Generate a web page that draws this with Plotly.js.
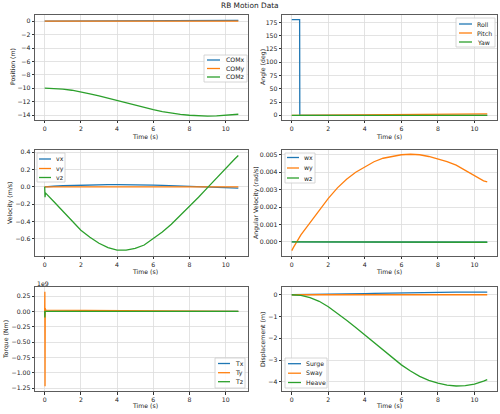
<!DOCTYPE html>
<html><head><meta charset="utf-8">
<script src="https://cdn.plot.ly/plotly-3.0.1.min.js"></script>
<style>html,body{margin:0;padding:0;background:#fff}#c{width:500px;height:414px}</style>
</head><body><div id="c"></div>
<script>
// ---- data ----
const tPos = [0,0.5,1,1.5,2,2.5,3,3.5,4,4.5,5,5.5,6,6.5,7,7.5,8,8.5,9,9.5,10,10.5,10.7];
const comX = [0,0.003,0.008,0.014,0.02,0.028,0.036,0.045,0.055,0.064,0.073,0.082,0.09,0.097,0.103,0.108,0.112,0.115,0.117,0.118,0.119,0.12,0.12];
const comY = [0,0,0,0,0,0,0,0,0,0,0,0,0,0,0,0,0,0,0,0,0,0,0];
const comZ = [-10,-10.03,-10.13,-10.3,-10.53,-10.83,-11.15,-11.5,-11.84,-12.2,-12.55,-12.88,-13.2,-13.48,-13.72,-13.9,-14.03,-14.12,-14.15,-14.13,-14.06,-13.95,-13.88];

const tRoll = [0,0.43,0.44,10.7];
const roll = [180,180,0,0];
const tAng = [0,2,4,6,8,10.7];
const pitch = [0,0.3,0.8,1.4,2.0,2.6];
const yaw = [0,0,0,0,0,0];

const tVel = [0,0.02,0.04,0.5,1,1.5,2,2.5,3,3.5,4,4.5,5,5.5,6,6.5,7,7.5,8,8.5,9,9.5,10,10.5,10.7];
const vx = [0,0,0,0.006,0.012,0.016,0.02,0.022,0.024,0.025,0.025,0.025,0.024,0.022,0.02,0.016,0.012,0.008,0.003,-0.002,-0.006,-0.009,-0.012,-0.014,-0.015];
const vy = [0,0,0,0,0,0,0,0,0,0,0,0,0,0,0,0,0,0,0,0,0,0,0,0,0];
const vz = [0,-0.12,-0.07,-0.17,-0.28,-0.39,-0.5,-0.58,-0.65,-0.7,-0.73,-0.73,-0.71,-0.67,-0.6,-0.52,-0.43,-0.33,-0.23,-0.12,-0.01,0.1,0.22,0.32,0.36];

const tW = [0,0.1,0.5,1,1.5,2,2.5,3,3.5,4,4.5,5,5.5,6,6.5,7,7.5,8,8.5,9,9.5,10,10.5,10.7];
const wx = [0,0,0,0,0,0,-0.000002,-0.000004,-0.000005,-0.000006,-0.000007,-0.000008,-0.000009,-0.00001,-0.000011,-0.000012,-0.000013,-0.000014,-0.000015,-0.000016,-0.000017,-0.000018,-0.000019,-0.00002];
const wy = [-0.0005,-0.0003,0.0004,0.0011,0.0018,0.0025,0.0031,0.0036,0.004,0.0043,0.0046,0.0048,0.0049,0.005,0.00503,0.005,0.0049,0.00477,0.0046,0.0044,0.0041,0.0038,0.0035,0.00344];
const wz = [0,0,0,0,0,0,-0.000002,-0.000003,-0.000004,-0.000005,-0.000006,-0.000007,-0.000008,-0.000009,-0.00001,-0.000011,-0.000012,-0.000013,-0.000014,-0.000015,-0.000016,-0.000017,-0.000018,-0.000019];

// torque in units of 1e9 N*m
const tTq = [0,0.01,0.02,0.03,0.05,0.1,2,4,6,8,10.7];
const tx = [0,0,0,0,0,0,0,0,0,0,0];
const ty = [0,0.32,-1.22,0.05,0.025,0.022,0.016,0.011,0.007,0.003,0.0];
const tz = [0,-0.1,0.01,0,0,0,0,0,0,0,0];

const tDisp = tPos;
const surge = [0,0.003,0.008,0.014,0.02,0.028,0.036,0.045,0.055,0.064,0.073,0.082,0.09,0.097,0.103,0.108,0.112,0.115,0.117,0.118,0.119,0.12,0.12];
const sway = [0,0,0,0,0,0,0,0,0,0,0,0,0,0,0,0,0,0,0,0,0,0,0];
const heave = [0,-0.03,-0.13,-0.3,-0.55,-0.85,-1.17,-1.5,-1.85,-2.2,-2.55,-2.9,-3.22,-3.5,-3.75,-3.93,-4.06,-4.15,-4.19,-4.17,-4.1,-3.97,-3.9];

const names1 = ['COMx','COMy','COMz'];
const names2 = ['Roll','Pitch','Yaw'];
const names3 = ['vx','vy','vz'];
const names4 = ['wx','wy','wz'];
const names5 = ['Tx','Ty','Tz'];
const names6 = ['Surge','Sway','Heave'];

// ---- styling ----
const W = 500, H = 414;
const C = ['#1f77b4','#ff7f0e','#2ca02c'];
const F = 'DejaVu Sans, sans-serif';
const fs = 6.2;
const TC = '#222';
function tr(x,y,name,ci,xa,ya){
  return {x:x,y:y,name:name,type:'scatter',mode:'lines',line:{color:C[ci],width:1.3},
          xaxis:xa,yaxis:ya,showlegend:false};
}
const data = [
  tr(tPos,comX,names1[0],0,'x','y'), tr(tPos,comY,names1[1],1,'x','y'), tr(tPos,comZ,names1[2],2,'x','y'),
  tr(tRoll,roll,names2[0],0,'x2','y2'), tr(tAng,pitch,names2[1],1,'x2','y2'), tr(tAng,yaw,names2[2],2,'x2','y2'),
  tr(tVel,vx,names3[0],0,'x3','y3'), tr(tVel,vy,names3[1],1,'x3','y3'), tr(tVel,vz,names3[2],2,'x3','y3'),
  tr(tW,wx,names4[0],0,'x4','y4'), tr(tW,wy,names4[1],1,'x4','y4'), tr(tW,wz,names4[2],2,'x4','y4'),
  tr(tTq,tx,names5[0],0,'x5','y5'), tr(tTq,ty,names5[1],1,'x5','y5'), tr(tTq,tz,names5[2],2,'x5','y5'),
  tr(tDisp,surge,names6[0],0,'x6','y6'), tr(tDisp,sway,names6[1],1,'x6','y6'), tr(tDisp,heave,names6[2],2,'x6','y6')
];
const xL=[0.070,0.496], xR=[0.564,0.994];
const r1=[0.710,0.964], r2=[0.382,0.638], r3=[0.055,0.307];
function xa(dom,anchor){
  return {domain:dom,anchor:anchor,range:[-0.535,11.235],dtick:2,tick0:0,
    showline:true,mirror:true,linecolor:'#333',linewidth:0.8,ticks:'outside',ticklen:2.5,tickcolor:'#333',
    showgrid:true,gridcolor:'#dcdcdc',gridwidth:0.8,zeroline:false,
    tickfont:{family:F,size:fs,color:TC}};
}
function ya(dom,anchor,range,dtick,fmt){
  return {domain:dom,anchor:anchor,range:range,dtick:dtick,tick0:0,tickformat:fmt,
    showline:true,mirror:true,linecolor:'#333',linewidth:0.8,ticks:'outside',ticklen:2.5,tickcolor:'#333',
    showgrid:true,gridcolor:'#dcdcdc',gridwidth:0.8,zeroline:false,
    tickfont:{family:F,size:fs,color:TC}};
}
const px = v => v/W, py = v => 1 - v/H;
const shapes = [], annotations = [];
function txt(text,x,y,opts){
  annotations.push(Object.assign({text:text,xref:'paper',yref:'paper',x:px(x),y:py(y),showarrow:false,
    xanchor:'center',yanchor:'middle',font:{family:F,size:fs,color:TC}},opts||{}));
}
// legend box drawn at pixel coords (x0,y0)-(x1,y1), entries at rows
function legend(names,x0,y0,x1,y1,rows,lx0,lx1,tx0){
  const X0=px(x0),X1=px(x1),Y0=py(y0),Y1=py(y1);
  shapes.push({type:'rect',xref:'paper',yref:'paper',x0:X0,x1:X1,y0:Y1,y1:Y0,
    fillcolor:'rgba(255,255,255,0.85)',line:{color:'#cccccc',width:0.8}});
  names.forEach((n,i)=>{
    shapes.push({type:'line',xref:'paper',yref:'paper',x0:px(lx0),x1:px(lx1),y0:py(rows[i]),y1:py(rows[i]),
      line:{color:C[i],width:1.3}});
    txt(n,tx0,rows[i],{xanchor:'left'});
  });
}
legend(names1,204,55,247,82,[60,68.5,77],207,220,224);
legend(names2,456,18,495,47,[24,33,42],459,472,475);
legend(names3,37,153,65,182,[159,168.5,177.5],39,51,54);
legend(names4,285,153,315,183,[157.5,168,178],287,299,302);
legend(names5,215,358,245,388,[363.5,372.7,381.7],218,230,233);
legend(names6,285,358,327,388,[363.7,373.2,382.5],288,301,304);

// axis titles
txt('Time (s)',145,136); txt('Time (s)',389,136);
txt('Time (s)',145,271); txt('Time (s)',389,271);
txt('Time (s)',145,405); txt('Time (s)',389,405);
txt('Position (m)',12,67,{textangle:-90});
txt('Angle (deg)',263,67,{textangle:-90});
txt('Velocity (m/s)',10,203,{textangle:-90});
txt('Angular Velocity (rad/s)',256,203,{textangle:-90});
txt('Torque (Nm)',6,340,{textangle:-90});
txt('Displacement (m)',263,340,{textangle:-90});
txt('1e9',35,283,{xanchor:'left'});
txt('RB Motion Data',250,6,{font:{family:F,size:7.4,color:TC}});

const layout = {
  width:W,height:H,margin:{l:0,r:0,t:0,b:0},paper_bgcolor:'#fff',plot_bgcolor:'#fff',
  showlegend:false,
  xaxis:xa(xL,'y'), yaxis:ya(r1,'x',[-14.75,0.94],2,'d'),
  xaxis2:xa(xR,'y2'), yaxis2:ya(r1,'x2',[-9,189],25,'d'),
  xaxis3:xa(xL,'y3'), yaxis3:ya(r2,'x3',[-0.795,0.425],0.2,'.1f'),
  xaxis4:xa(xR,'y4'), yaxis4:ya(r2,'x4',[-0.0008,0.00528],0.001,'.3f'),
  xaxis5:xa(xL,'y5'), yaxis5:ya(r3,'x5',[-1.3,0.40],0.25,'.2f'),
  xaxis6:xa(xR,'y6'), yaxis6:ya(r3,'x6',[-4.43,0.36],1,'d'),
  shapes:shapes, annotations:annotations
};
Plotly.newPlot('c',data,layout,{displayModeBar:false,staticPlot:true});
</script></body></html>
